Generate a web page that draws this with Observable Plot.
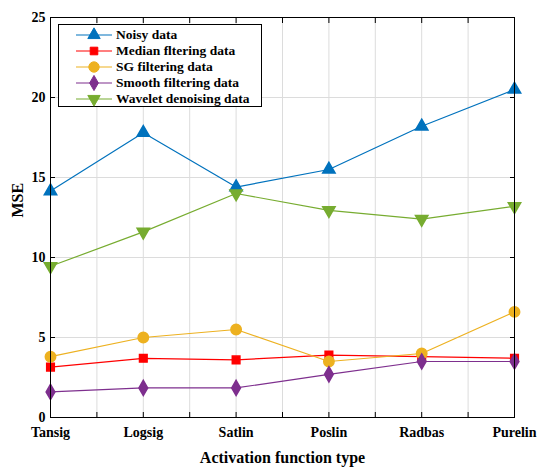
<!DOCTYPE html>
<html><head><meta charset="utf-8">
<script src="https://cdn.jsdelivr.net/npm/d3@7"></script>
<script src="https://cdn.jsdelivr.net/npm/@observablehq/plot@0.6"></script>
<style>
body{margin:0;background:#fff;}
#wrap{position:relative;width:537px;height:471px;font-family:'Liberation Serif',serif;}
#wrap svg text{font-family:'Liberation Serif',serif;}
#legend{position:absolute;left:58px;top:24px;width:202px;height:81px;border:1px solid #000;background:#fff;box-sizing:content-box;}
.row{position:absolute;left:0;height:16px;display:flex;align-items:center;}
.row span{font-family:'Liberation Serif',serif;font-weight:bold;font-size:13.5px;color:#000;margin-left:1px;white-space:nowrap;}
</style>
</head><body>
<div id="wrap"><div id="legend"></div></div>
<script>
const categories = ["Tansig","Logsig","Satlin","Poslin","Radbas","Purelin"];
const seriesNames = ["Noisy data","Median fltering data","SG filtering data","Smooth filtering data","Wavelet denoising data"];
const noisy   = [14.15, 17.8, 14.4, 15.5, 18.2, 20.5];
const median  = [3.15, 3.7, 3.6, 3.9, 3.8, 3.7];
const sg      = [3.8, 5.0, 5.5, 3.5, 4.0, 6.6];
const smooth  = [1.6, 1.85, 1.85, 2.7, 3.5, 3.5];
const wavelet = [9.45, 11.6, 14.0, 12.95, 12.4, 13.2];
const xTitle = "Activation function type";
const yTitle = "MSE";
const colors  = ["#0072BD","#FF0000","#EDB120","#7E2F8E","#77AC30"];
const symbols = ["triangle","square","circle","diamond","triangle"];
const rotations = [0,0,0,0,180];
const radii = [4.6,4.3,5.2,4.6,4.6];
const yTicks = [0,5,10,15,20,25];
const xGrid = d3.range(1, 6.01, 0.5);

const allSeries = [noisy, median, sg, smooth, wavelet];
const font = "'Liberation Serif', serif";

const marks = [
  Plot.gridX(xGrid, {stroke:"#dcdcdc", strokeOpacity:1}),
  Plot.gridY(yTicks, {stroke:"#dcdcdc", strokeOpacity:1}),
];
allSeries.forEach((vals, s) => {
  const data = vals.map((v, i) => ({x: i + 1, y: v}));
  marks.push(Plot.line(data, {x:"x", y:"y", stroke: colors[s], strokeWidth: 1.2}));
  marks.push(Plot.dot(data, {x:"x", y:"y", symbol: symbols[s], fill: colors[s], stroke: colors[s], r: radii[s], rotate: rotations[s]}));
});
marks.push(
  Plot.frame({stroke:"#000", strokeWidth:1}),
  Plot.axisX(xGrid, {anchor:"bottom", tickSize:-5, text:null, label:null}),
  Plot.axisX(xGrid, {anchor:"top", tickSize:-5, text:null, label:null}),
  Plot.axisY(yTicks, {anchor:"left", tickSize:-5, text:null, label:null}),
  Plot.axisY(yTicks, {anchor:"right", tickSize:-5, text:null, label:null}),
  Plot.axisX(d3.range(1,7), {anchor:"bottom", tickSize:0, tickPadding:10, tickFormat: d => categories[d-1],
    fontSize:14, fontWeight:"bold", label:null}),
  Plot.axisY(yTicks, {anchor:"left", tickSize:0, tickPadding:5, fontSize:14, fontWeight:"bold", label:null}),
  Plot.text([xTitle], {frameAnchor:"bottom", dy:45, text:d => d, fontSize:16, fontWeight:"bold", fill:"#000"}),
  Plot.text([yTitle], {frameAnchor:"left", dx:-32.5, rotate:-90, text:d => d, fontSize:16, fontWeight:"bold", fill:"#000"})
);

const chart = Plot.plot({
  width: 537, height: 471,
  marginLeft: 50, marginRight: 23, marginTop: 17, marginBottom: 54,
  style: {fontFamily: font, fontSize: "14px", fontWeight: "bold", color:"#000", background:"#fff", overflow:"visible"},
  x: {type:"linear", domain:[1,6]},
  y: {domain:[0,25]},
  marks
});
document.getElementById("wrap").prepend(chart);

// legend
const legend = document.getElementById("legend");
seriesNames.forEach((name, s) => {
  const row = document.createElement("div");
  row.className = "row";
  row.style.top = (2 + s * 16) + "px";
  const svg = d3.create("svg").attr("width", 56).attr("height", 16);
  svg.append("line").attr("x1", 17).attr("x2", 53).attr("y1", 8).attr("y2", 8).attr("stroke", colors[s]).attr("stroke-width", 1.2);
  const symType = {triangle: d3.symbolTriangle, square: d3.symbolSquare, circle: d3.symbolCircle, diamond: d3.symbolDiamond}[symbols[s]];
  const r = radii[s];
  svg.append("path").attr("d", d3.symbol(symType, Math.PI * r * r)())
    .attr("transform", `translate(35,8) rotate(${rotations[s]})`)
    .attr("fill", colors[s]).attr("stroke", colors[s]);
  row.appendChild(svg.node());
  const sp = document.createElement("span");
  sp.textContent = name;
  row.appendChild(sp);
  legend.appendChild(row);
});
</script>
</body></html>
